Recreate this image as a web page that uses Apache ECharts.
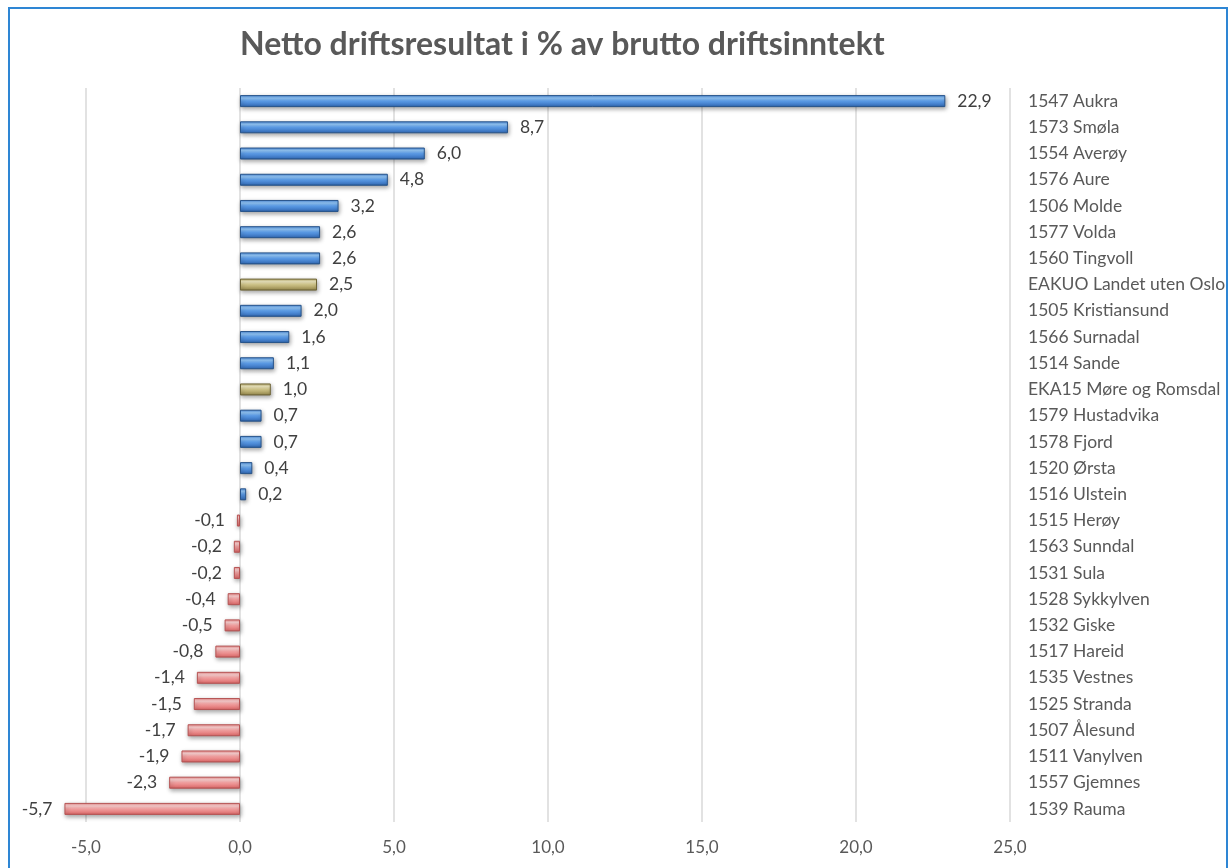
<!DOCTYPE html>
<html>
<head>
<meta charset="utf-8">
<script src="https://cdn.jsdelivr.net/npm/echarts@6/dist/echarts.min.js"></script>
<style>
  html, body { margin: 0; padding: 0; background: #fff; }
  #chart { width: 1230px; height: 868px; }
</style>
</head>
<body>
<div id="chart"></div>
<script>
// Kommuner, ovenfra og ned
const categories = [
  '1547 Aukra', '1573 Smøla', '1554 Averøy', '1576 Aure', '1506 Molde',
  '1577 Volda', '1560 Tingvoll', 'EAKUO Landet uten Oslo', '1505 Kristiansund',
  '1566 Surnadal', '1514 Sande', 'EKA15 Møre og Romsdal', '1579 Hustadvika',
  '1578 Fjord', '1520 Ørsta', '1516 Ulstein', '1515 Herøy', '1563 Sunndal',
  '1531 Sula', '1528 Sykkylven', '1532 Giske', '1517 Hareid', '1535 Vestnes',
  '1525 Stranda', '1507 Ålesund', '1511 Vanylven', '1557 Gjemnes', '1539 Rauma'
]
const values = [
  22.9, 8.7, 6.0, 4.8, 3.2,
  2.6, 2.6, 2.5, 2.0,
  1.6, 1.1, 1.0, 0.7,
  0.7, 0.4, 0.2, -0.1, -0.2,
  -0.2, -0.4, -0.5, -0.8, -1.4,
  -1.5, -1.7, -1.9, -2.3, -5.7
]
// Sammenligningsgrupper (gull-farge)
const referenceGroups = ['EAKUO Landet uten Oslo', 'EKA15 Møre og Romsdal']
const xTicks = [-5, 0, 5, 10, 15, 20, 25]

const fmt = (v) => v.toFixed(1).replace('.', ',')

// 3D-aktig gradient som i Excel
const grad = (c) => new echarts.graphic.LinearGradient(0, 0, 0, 1, [
  { offset: 0, color: c[0] },
  { offset: 0.25, color: c[1] },
  { offset: 0.5, color: c[2] },
  { offset: 0.85, color: c[3] },
  { offset: 1, color: c[4] }
])

const styleFor = (name, v) => {
  if (referenceGroups.includes(name)) {
    return { color: grad(['#b9ad6c', '#ece6bd', '#cfc488', '#a3965a', '#7a6e3c']), borderColor: '#6e6436' }
  }
  if (v < 0) {
    return { color: grad(['#eb8a8a', '#fcd0d0', '#f2a0a0', '#e27676', '#c15656']), borderColor: '#b65454' }
  }
  return { color: grad(['#4a88d8', '#92c6f7', '#5c9ce7', '#3c76c2', '#24518c']), borderColor: '#27548b' }
}

const seriesData = categories.map((name, i) => {
  const v = values[i]
  const s = styleFor(name, v)
  return {
    value: v,
    itemStyle: {
      color: s.color,
      borderColor: s.borderColor,
      borderWidth: 1,
      shadowColor: 'rgba(0,0,0,0.35)',
      shadowBlur: 4,
      shadowOffsetX: 1,
      shadowOffsetY: 2
    },
    label: { position: v < 0 ? 'left' : 'right' }
  }
})

const chart = echarts.init(document.getElementById('chart'))

const option = {
  backgroundColor: '#fff',
  textStyle: { fontFamily: 'Lato' },
  title: {
    text: 'Netto driftsresultat i % av brutto driftsinntekt',
    left: 235,
    top: 24,
    textStyle: { fontSize: 32, fontWeight: 'bold', color: '#595959', fontFamily: 'Lato' }
  },
  graphic: [{
    type: 'rect',
    shape: { x: 9, y: 8, width: 1218, height: 900 },
    style: { fill: 'none', stroke: '#2e86d4', lineWidth: 2 },
    silent: true
  }],
  grid: {
    left: 86,
    right: 220,
    top: 88,
    bottom: 46
  },
  xAxis: {
    type: 'value',
    min: xTicks[0],
    max: xTicks[xTicks.length - 1],
    interval: 5,
    axisLine: { show: false },
    axisTick: { show: false },
    splitLine: { show: true, lineStyle: { color: '#d9d9d9', width: 1.5 } },
    axisLabel: {
      formatter: (v) => fmt(v),
      color: '#595959',
      fontSize: 17,
      margin: 17
    }
  },
  yAxis: {
    type: 'category',
    data: categories,
    inverse: true,
    position: 'right',
    axisLine: { show: false },
    axisTick: { show: false },
    axisLabel: {
      color: '#595959',
      fontSize: 17.5,
      margin: 18,
      align: 'left'
    }
  },
  series: [{
    type: 'bar',
    data: seriesData,
    barWidth: 12,
    clip: false,
    label: {
      show: true,
      formatter: (p) => fmt(p.value),
      color: '#404040',
      fontSize: 17.5,
      distance: 12
    }
  }]
}

chart.setOption(option)
</script>
</body>
</html>
